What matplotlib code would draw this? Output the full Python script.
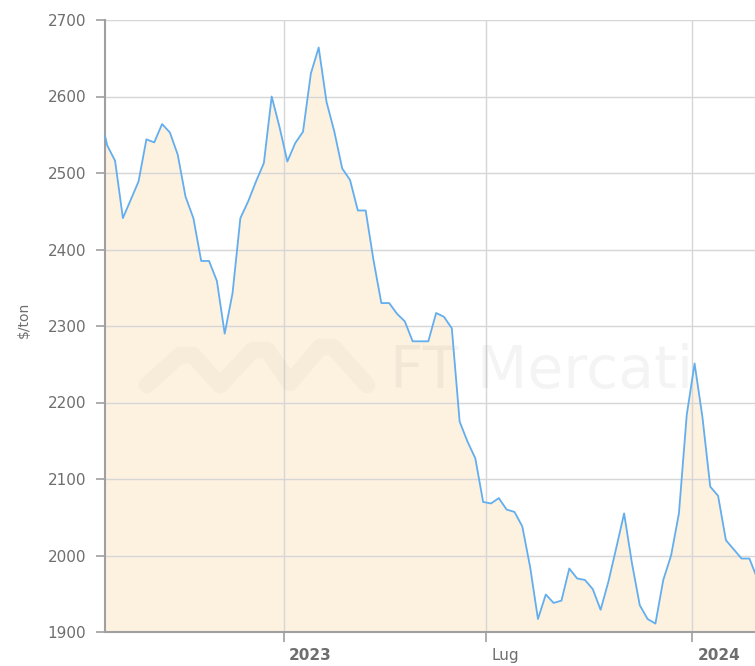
import matplotlib
matplotlib.use("Agg")
import matplotlib.pyplot as plt
import matplotlib.transforms as mtransforms
import pandas as pd

# ---------------- data ----------------
start_date = "2022-07-20"          # weekly observations
prices = [2580, 2536, 2516, 2441, 2465, 2489, 2544, 2540, 2564, 2553,
          2524, 2469, 2441, 2385, 2385, 2359, 2290, 2343, 2441, 2463,
          2489, 2513, 2600, 2560, 2515, 2539, 2554, 2630, 2664, 2593,
          2554, 2506, 2491, 2451, 2451, 2386, 2330, 2330, 2316, 2306,
          2280, 2280, 2280, 2317, 2312, 2297, 2175, 2149, 2127, 2070,
          2068, 2075, 2060, 2057, 2038, 1985, 1917, 1949, 1938, 1941,
          1983, 1970, 1968, 1956, 1929, 1966, 2010, 2055, 1990, 1935,
          1917, 1911, 1968, 2000, 2055, 2184, 2251, 2181, 2090, 2078,
          2020, 2008, 1996, 1996, 1970]
x_tick_dates = ["2023-01-01", "2023-07-01", "2024-01-01"]
x_tick_labels = ["2023", "Lug", "2024"]
x_tick_bold = [True, False, True]
y_ticks = [1900, 2000, 2100, 2200, 2300, 2400, 2500, 2600, 2700]
y_label = "$/ton"
x_range = ["2022-07-25", "2024-02-26"]
y_range = [1900, 2700]

dates = pd.date_range(start_date, periods=len(prices), freq="7D")

# ---------------- style ----------------
FILL = "#FDF1E0"
LINE = "#62AEEE"
GRID = "#D6D6D6"
AXIS = "#A0A0A0"
TEXT = "#6E6E6E"

W, H = 755, 666
fig = plt.figure(figsize=(W / 100, H / 100), dpi=100)
ax = fig.add_axes([105 / W, 34 / H, 650 / W, 612 / H])

ax.set_xlim(pd.Timestamp(x_range[0]), pd.Timestamp(x_range[1]))
ax.set_ylim(*y_range)

ax.fill_between(dates, prices, y_range[0], color=FILL, lw=0, zorder=1)
ax.plot(dates, prices, color=LINE, lw=1.3, zorder=3, solid_joinstyle="round")

ax.set_axisbelow("line")
ax.grid(True, color=GRID, lw=1.0)

for s in ["top", "right"]:
    ax.spines[s].set_visible(False)
for s in ["left", "bottom"]:
    ax.spines[s].set_color(AXIS)
    ax.spines[s].set_linewidth(1.5)

ax.set_yticks(y_ticks)
ax.set_yticklabels([str(v) for v in y_ticks])
ax.tick_params(axis="y", length=6.5, width=1.2, color=AXIS,
               labelcolor=TEXT, labelsize=11, pad=7)

ax.set_xticks([pd.Timestamp(d) for d in x_tick_dates])
ax.set_xticklabels(x_tick_labels)
ax.tick_params(axis="x", length=7, width=1.2, color=AXIS,
               labelcolor=TEXT, labelsize=11, pad=4.5)
offset = mtransforms.ScaledTranslation(5 / 100, 0, fig.dpi_scale_trans)
for lab, bold in zip(ax.get_xticklabels(), x_tick_bold):
    lab.set_horizontalalignment("left")
    lab.set_transform(lab.get_transform() + offset)
    lab.set_fontweight("bold" if bold else "normal")

fig.text(24 / W, 1 - 320 / H, y_label, rotation=90, ha="center", va="center",
         color=TEXT, fontsize=10)

# ---------------- watermark ----------------
def ax_pt(px, py):
    return ((px - 105) / 650, (632 - py) / 612)

logo_px = [(147, 385), (180, 355), (193, 355), (220, 385), (253, 350),
           (267, 350), (290, 383), (320, 347), (333, 347), (367, 385)]
lx, ly = zip(*[ax_pt(*p) for p in logo_px])
ax.plot(lx, ly, transform=ax.transAxes, color="black", alpha=0.022,
        lw=12, solid_capstyle="round", solid_joinstyle="round", zorder=2)
tx, ty = ax_pt(390, 388)
ax.text(tx, ty, "FT Mercati", transform=ax.transAxes, fontsize=42,
        color="black", alpha=0.045, ha="left", va="baseline", zorder=2)

fig.savefig("out.png", dpi=100)
